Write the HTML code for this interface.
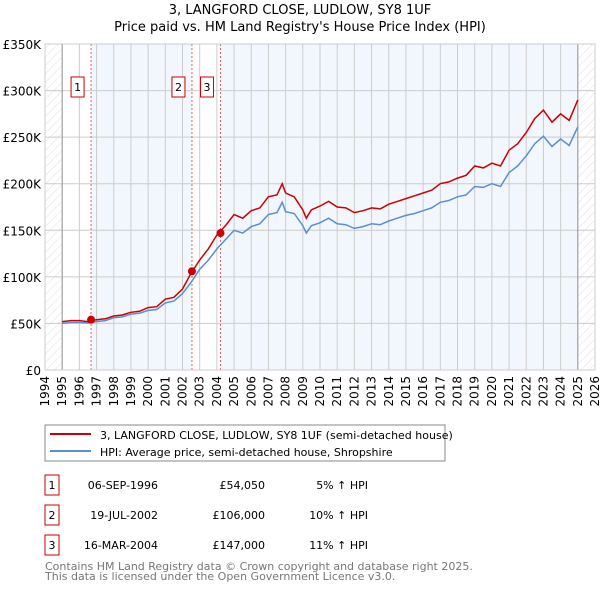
<!DOCTYPE html>
<html><head><meta charset="utf-8"><style>
body{margin:0;background:#fff;font-family:"DejaVu Sans","Liberation Sans",sans-serif;}
svg text{font-family:"DejaVu Sans","Liberation Sans",sans-serif;}
</style></head><body>
<svg id="c" width="600" height="590" xmlns="http://www.w3.org/2000/svg">
<defs><pattern id="h" width="6" height="6" patternUnits="userSpaceOnUse" patternTransform="rotate(45)"><line x1="0" y1="0" x2="0" y2="6" stroke="#d8d8d8" stroke-width="0.8"/></pattern></defs>
<text x="300" y="14" text-anchor="middle" font-size="13">3, LANGFORD CLOSE, LUDLOW, SY8 1UF</text>
<text x="300" y="31" text-anchor="middle" font-size="13">Price paid vs. HM Land Registry's House Price Index (HPI)</text>
<g id="plot"></g>
<rect x="45" y="425" width="400" height="36" fill="#fff" stroke="#888"/>
<line x1="50" y1="434" x2="91" y2="434" stroke="#cc0000" stroke-width="2"/>
<text x="100" y="439" font-size="11">3, LANGFORD CLOSE, LUDLOW, SY8 1UF (semi-detached house)</text>
<line x1="50" y1="451" x2="91" y2="451" stroke="#5b8fd1" stroke-width="2"/>
<text x="100" y="456" font-size="11">HPI: Average price, semi-detached house, Shropshire</text>
<g id="tbl" font-size="11"></g>
<text x="45" y="570" font-size="11" fill="#777">Contains HM Land Registry data © Crown copyright and database right 2025.</text>
<text x="45" y="580" font-size="11" fill="#777">This data is licensed under the Open Government Licence v3.0.</text>
</svg>
<script>
const years=[1995,1995.5,1996,1996.5,1997,1997.5,1998,1998.5,1999,1999.5,2000,2000.5,2001,2001.5,2002,2002.5,2003,2003.5,2004,2004.5,2005,2005.5,2006,2006.5,2007,2007.5,2007.8,2008,2008.5,2009,2009.2,2009.5,2010,2010.5,2011,2011.5,2012,2012.5,2013,2013.5,2014,2014.5,2015,2015.5,2016,2016.5,2017,2017.5,2018,2018.5,2019,2019.5,2020,2020.5,2021,2021.5,2022,2022.5,2023,2023.5,2024,2024.5,2025];
const hpi=[50,51,51,50.5,52,53,56,57,60,61,64,65,72,74,82,94,108,118,130,140,150,147,154,157,167,169,180,170,168,155,147,155,158,163,157,156,152,154,157,156,160,163,166,168,171,174,180,182,186,188,197,196,200,197,212,219,230,243,251,240,248,241,261];
const price=[52,53,53,52,54,55,58,59,62,63,67,68,76,78,87,104,118,130,145,155,167,163,171,174,186,188,200,190,186,172,163,172,176,181,175,174,169,171,174,173,178,181,184,187,190,193,200,202,206,209,219,217,222,219,236,243,255,270,279,266,275,268,290];
const yTicks=[0,50,100,150,200,250,300,350];
const yTickLabels=["£0","£50K","£100K","£150K","£200K","£250K","£300K","£350K"];
const xTicks=[1994,1995,1996,1997,1998,1999,2000,2001,2002,2003,2004,2005,2006,2007,2008,2009,2010,2011,2012,2013,2014,2015,2016,2017,2018,2019,2020,2021,2022,2023,2024,2025,2026];
const saleDates=[1996.68,2002.55,2004.21];
const salePrices=[54.05,106,147];
const saleLabels=["1","2","3"];
const saleDateText=["06-SEP-1996","19-JUL-2002","16-MAR-2004"];
const salePriceText=["£54,050","£106,000","£147,000"];
const saleHpiText=["5% ↑ HPI","10% ↑ HPI","11% ↑ HPI"];

const NS="http://www.w3.org/2000/svg";
const X0=45,X1=595,Y0=370,Y1=44,D0=1994,D1=2026,V1=350;
const x=d=>X0+(d-D0)/(D1-D0)*(X1-X0);
const y=v=>Y0-v/V1*(Y0-Y1);
const g=document.getElementById('plot');
function mk(t,a,p){const e=document.createElementNS(NS,t);for(const k in a)e.setAttribute(k,a[k]);(p||g).appendChild(e);return e;}
let e;
e=mk('rect',{x:X0,y:Y1,width:X1-X0,height:Y0-Y1,fill:'#fff'});


e=mk('rect',{x:x(saleDates[0]),y:Y1,width:x(saleDates[1])-x(saleDates[0]),height:Y0-Y1,fill:'#f2f6fd'});


e=mk('rect',{x:x(saleDates[2]),y:Y1,width:x(2025)-x(saleDates[2]),height:Y0-Y1,fill:'#f2f6fd'});


e=mk('rect',{x:x(1994),y:Y1,width:x(1995)-x(1994),height:Y0-Y1,fill:'url(#h)'});


e=mk('rect',{x:x(2025),y:Y1,width:x(2026)-x(2025),height:Y0-Y1,fill:'url(#h)'});


xTicks.forEach(d=>{
  e=mk('line',{x1:x(d),x2:x(d),y1:Y1,y2:Y0,stroke:'#ccc'});
  
  
  e=mk('text',{x:0,y:0,'font-size':12,'text-anchor':'end',transform:`translate(${x(d)+4},${Y0+6}) rotate(-90)`});
  e.textContent=d;
  
  
});
yTicks.forEach((v,i)=>{
  e=mk('line',{x1:X0,x2:X1,y1:y(v),y2:y(v),stroke:'#ccc'});
  
  
  e=mk('text',{x:X0-4,y:y(v)+5,'font-size':12,'text-anchor':'end'});
  e.textContent=yTickLabels[i];
  
  
});
[1995,2025].forEach(d=>{e=mk('line',{x1:x(d),x2:x(d),y1:Y1,y2:Y0,stroke:'#999'});
  
  });
saleDates.forEach((d,i)=>{
  e=mk('line',{x1:x(d),x2:x(d),y1:Y1,y2:Y0,stroke:'#e06060','stroke-dasharray':'2,2'});
  
  
});
const pts=(arr)=>arr.map((v,i)=>x(years[i]).toFixed(1)+','+y(v).toFixed(1)).join(' ');
e=mk('polyline',{points:pts(hpi),fill:'none',stroke:'#5b8fd1','stroke-width':1.5});


e=mk('polyline',{points:pts(price),fill:'none',stroke:'#cc0000','stroke-width':1.5});


saleDates.forEach((d,i)=>{
  e=mk('circle',{cx:x(d),cy:y(salePrices[i]),r:4,fill:'#cc0000'});
  
  
  e=mk('rect',{x:x(d)-20,y:77,width:13,height:20,fill:'#fff',stroke:'#cc0000'});
  
  
  e=mk('text',{x:x(d)-13.5,y:91,'font-size':11,'text-anchor':'middle'});
  e.textContent=saleLabels[i];
  
  
});
e=mk('rect',{x:X0,y:Y1,width:X1-X0,height:Y0-Y1,fill:'none',stroke:'#ccc'});


const t=document.getElementById('tbl');
saleLabels.forEach((l,i)=>{
  const cy=475+i*30;
  e=mk('rect',{x:45,y:cy,width:14,height:20,fill:'#fff',stroke:'#cc0000'},t);
  
  
  e=mk('text',{x:52,y:cy+14,'text-anchor':'middle'},t);e.textContent=l;
  
  
  e=mk('text',{x:158,y:cy+14,'text-anchor':'end'},t);e.textContent=saleDateText[i];
  
  
  e=mk('text',{x:265,y:cy+14,'text-anchor':'end'},t);e.textContent=salePriceText[i];
  
  
  e=mk('text',{x:368,y:cy+14,'text-anchor':'end'},t);e.textContent=saleHpiText[i];
  
  
});
</script>
</body></html>
